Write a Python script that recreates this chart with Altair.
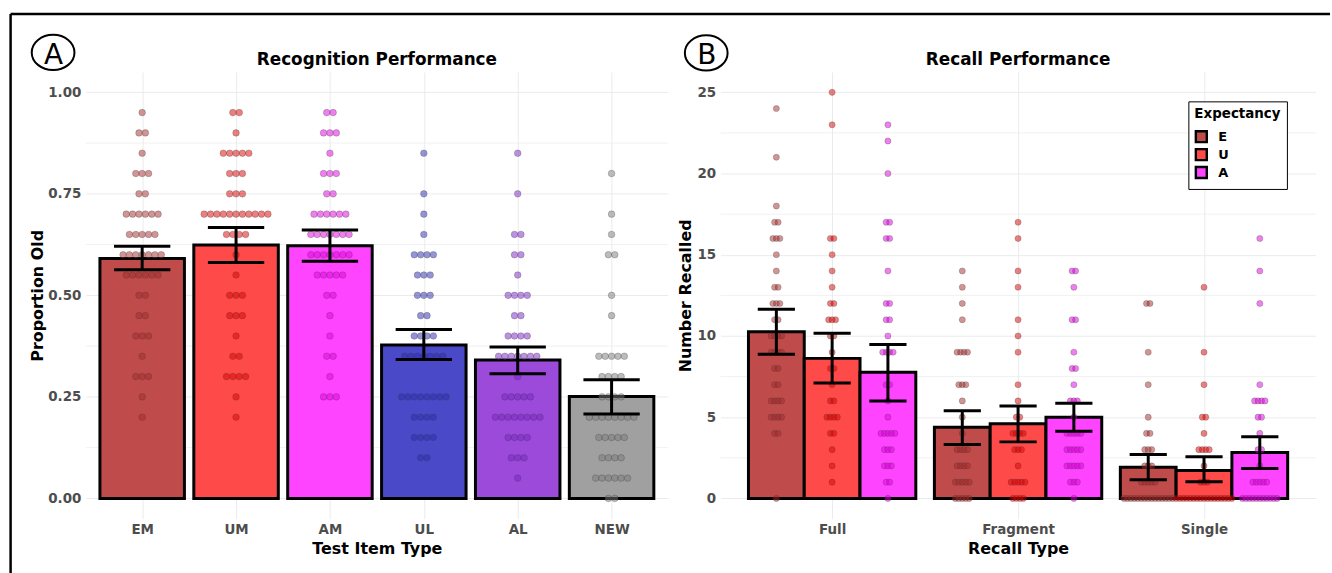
import altair as alt
import pandas as pd

FONT = "DejaVu Sans"
LABEL_GRAY = "#4D4D4D"
GRID = "#EBEBEB"

# ---------------- Panel A: recognition ----------------
items = ["EM", "UM", "AM", "UL", "AL", "NEW"]
item_mean = [0.591, 0.624, 0.622, 0.378, 0.341, 0.251]
item_lo = [0.563, 0.581, 0.584, 0.342, 0.307, 0.208]
item_hi = [0.621, 0.667, 0.661, 0.416, 0.373, 0.292]
item_bar_colors = ["#C04B4B", "#FF4A4A", "#FF44FF", "#4A4AC8", "#9B4ADA", "#A0A0A0"]
item_dot_colors = ["#A52A2A", "#DD0000", "#E000E0", "#2A2AB0", "#7A22C8", "#7A7A7A"]

em_vals = [0.95, 0.90, 0.85, 0.80, 0.75, 0.70, 0.65, 0.60, 0.55, 0.50, 0.45, 0.40, 0.35, 0.30, 0.25, 0.20]
em_counts = [1, 2, 1, 3, 2, 6, 5, 7, 6, 2, 2, 3, 1, 3, 1, 1]
um_vals = [0.95, 0.90, 0.85, 0.80, 0.75, 0.70, 0.65, 0.60, 0.55, 0.50, 0.45, 0.40, 0.35, 0.30, 0.25, 0.20]
um_counts = [2, 1, 5, 3, 3, 11, 4, 1, 1, 3, 3, 1, 2, 4, 1, 1]
am_vals = [0.95, 0.90, 0.85, 0.80, 0.75, 0.70, 0.65, 0.60, 0.55, 0.50, 0.45, 0.40, 0.35, 0.30, 0.25]
am_counts = [2, 3, 1, 3, 2, 6, 7, 7, 5, 2, 1, 1, 2, 1, 3]
ul_vals = [0.85, 0.75, 0.70, 0.65, 0.60, 0.55, 0.50, 0.45, 0.40, 0.35, 0.25, 0.20, 0.15, 0.10]
ul_counts = [1, 1, 1, 1, 4, 3, 3, 2, 4, 7, 8, 4, 4, 2]
al_vals = [0.85, 0.75, 0.65, 0.60, 0.55, 0.50, 0.45, 0.40, 0.35, 0.30, 0.25, 0.20, 0.15, 0.10, 0.05]
al_counts = [1, 1, 2, 2, 1, 4, 2, 4, 7, 1, 5, 8, 4, 3, 1]
new_vals = [0.80, 0.70, 0.65, 0.60, 0.50, 0.45, 0.35, 0.30, 0.25, 0.20, 0.15, 0.10, 0.05, 0.00]
new_counts = [1, 1, 1, 2, 1, 1, 5, 4, 4, 8, 5, 4, 6, 2]
recog_dots = [(em_vals, em_counts), (um_vals, um_counts), (am_vals, am_counts),
              (ul_vals, ul_counts), (al_vals, al_counts), (new_vals, new_counts)]
minor_a = [0.125, 0.375, 0.625, 0.875]
ticks_a = [0, 0.25, 0.5, 0.75, 1.0]

# ---------------- Panel B: recall ----------------
recall_types = ["Full", "Fragment", "Single"]
expectancy = ["E", "U", "A"]
exp_bar_colors = ["#C04B4B", "#FF4A4A", "#FF44FF"]
exp_dot_colors = ["#A52A2A", "#DD0000", "#E000E0"]

full_mean = [10.26, 8.62, 7.76]
full_lo = [8.87, 7.10, 6.00]
full_hi = [11.65, 10.16, 9.48]
fragment_mean = [4.38, 4.59, 5.00]
fragment_lo = [3.32, 3.48, 4.14]
fragment_hi = [5.40, 5.69, 5.86]
single_mean = [1.92, 1.72, 2.83]
single_lo = [1.15, 1.02, 1.84]
single_hi = [2.70, 2.56, 3.79]

full_e_vals = [24, 21, 18, 17, 16, 15, 14, 13, 12, 11, 10, 9, 8, 7, 6, 5, 4, 0]
full_e_counts = [1, 1, 1, 2, 3, 1, 1, 2, 3, 2, 4, 4, 2, 2, 4, 4, 2, 1]
full_u_vals = [25, 23, 16, 15, 14, 13, 12, 11, 10, 9, 8, 7, 6, 5, 4, 3, 2, 1]
full_u_counts = [1, 1, 2, 1, 1, 1, 2, 3, 2, 1, 2, 1, 2, 4, 2, 1, 1, 1]
full_a_vals = [23, 22, 20, 17, 16, 14, 12, 11, 10, 9, 7, 6, 5, 4, 3, 2, 1, 0]
full_a_counts = [1, 1, 1, 2, 2, 1, 2, 2, 1, 4, 2, 1, 1, 5, 3, 3, 2, 1]
fragment_e_vals = [14, 13, 12, 11, 9, 7, 6, 5, 4, 3, 2, 1, 0]
fragment_e_counts = [1, 1, 1, 1, 4, 3, 1, 1, 1, 4, 4, 5, 5]
fragment_u_vals = [17, 16, 14, 13, 11, 10, 9, 7, 6, 5, 4, 3, 2, 1, 0]
fragment_u_counts = [1, 1, 1, 1, 1, 1, 1, 1, 1, 2, 4, 3, 1, 5, 4]
fragment_a_vals = [14, 13, 11, 9, 8, 7, 6, 5, 4, 3, 2, 1, 0]
fragment_a_counts = [2, 1, 2, 1, 2, 1, 3, 1, 5, 5, 5, 3, 1]
single_e_vals = [12, 9, 7, 5, 4, 3, 2, 1, 0]
single_e_counts = [2, 1, 1, 1, 2, 3, 3, 5, 15]
single_u_vals = [13, 9, 7, 5, 4, 3, 2, 1, 0]
single_u_counts = [1, 1, 1, 2, 1, 4, 1, 3, 17]
single_a_vals = [16, 14, 12, 7, 6, 5, 4, 3, 2, 1, 0]
single_a_counts = [1, 1, 1, 1, 4, 2, 1, 2, 1, 5, 11]

recall_stats = [(full_mean, full_lo, full_hi), (fragment_mean, fragment_lo, fragment_hi),
                (single_mean, single_lo, single_hi)]
recall_dots = [
    [(full_e_vals, full_e_counts), (full_u_vals, full_u_counts), (full_a_vals, full_a_counts)],
    [(fragment_e_vals, fragment_e_counts), (fragment_u_vals, fragment_u_counts), (fragment_a_vals, fragment_a_counts)],
    [(single_e_vals, single_e_counts), (single_u_vals, single_u_counts), (single_a_vals, single_a_counts)],
]
minor_b = [2.5, 7.5, 12.5, 17.5, 22.5]
ticks_b = [0, 5, 10, 15, 20, 25]

# ---------------- layout constants ----------------
WA, WB, H = 584.8, 597.8, 448.8
STACK_A = 0.0679   # dot stacking step (category units)
STACK_B = 0.0187

# ---------------- build tables ----------------
bars_a = pd.DataFrame({"cat": items, "pos": range(1, 7), "mean": item_mean,
                       "lo": item_lo, "hi": item_hi})
bars_a["left"] = bars_a["pos"] - 0.45
bars_a["right"] = bars_a["pos"] + 0.45
bars_a["capl"] = bars_a["pos"] - 0.3
bars_a["capr"] = bars_a["pos"] + 0.3

rows = []
for i, (vals, cnts) in enumerate(recog_dots):
    for v, n in zip(vals, cnts):
        for k in range(n):
            rows.append({"cat": items[i], "x": i + 1 + (k - (n - 1) / 2) * STACK_A, "y": v})
dots_a = pd.DataFrame(rows)

brows, drows = [], []
for g, rt in enumerate(recall_types):
    m, lo, hi = recall_stats[g]
    for j, ex in enumerate(expectancy):
        c = g + 1 + (j - 1) * 0.3
        brows.append({"cat": ex, "type": rt, "pos": c, "mean": m[j], "lo": lo[j], "hi": hi[j],
                      "left": c - 0.15, "right": c + 0.15, "capl": c - 0.1, "capr": c + 0.1})
        vals, cnts = recall_dots[g][j]
        for v, n in zip(vals, cnts):
            for k in range(n):
                drows.append({"cat": ex, "x": c + (k - (n - 1) / 2) * STACK_B, "y": v})
bars_b = pd.DataFrame(brows)
dots_b = pd.DataFrame(drows)
one = pd.DataFrame({"k": [1]})


def panel(bars, dots, width, xdom, xvals, xlabels, ydom, yvals, yfmt, xtitle, ytitle,
          ytitle_x, minor, title, domain, bar_cols, dot_cols, dot_size, leg_bar):
    xs = alt.Scale(domain=xdom, nice=False, zero=False)
    ys = alt.Scale(domain=ydom, nice=False, zero=False)
    lab = "[" + ",".join("'%s'" % s for s in xlabels) + "][datum.value - 1]"
    xaxis = alt.Axis(values=xvals, labelExpr=lab, title=xtitle, grid=True, gridColor=GRID,
                     ticks=False, tickSize=0, domain=False, labelPadding=3.5,
                     labelFontSize=13.5, labelFont=FONT, labelFontWeight="bold",
                     labelColor=LABEL_GRAY, titleFontSize=16, titleFont=FONT,
                     titleFontWeight="bold", titleColor="black", titleX=width / 2,
                     titleY=29.8, titleBaseline="middle", titleAlign="center",
                     labelOverlap=False, labelFlush=False)
    yaxis = alt.Axis(values=yvals, format=yfmt, title=ytitle, grid=True, gridColor=GRID,
                     ticks=False, tickSize=0, domain=False, labelPadding=5,
                     labelFontSize=13.5, labelFont=FONT, labelFontWeight="bold",
                     labelColor=LABEL_GRAY, titleFontSize=16, titleFont=FONT,
                     titleFontWeight="bold", titleColor="black", titleX=ytitle_x,
                     titleY=H / 2, titleBaseline="middle", titleAlign="center",
                     titleAngle=270, labelOverlap=False, labelFlush=False)

    grid_minor = alt.Chart(pd.DataFrame({"v": minor})).mark_rule(color=GRID, strokeWidth=0.7).encode(
        y=alt.Y("v:Q", scale=ys, axis=yaxis), x=alt.value(0), x2=alt.value(width))
    bar = alt.Chart(bars).mark_bar(stroke="black", strokeWidth=3, opacity=1).encode(
        x=alt.X("left:Q", scale=xs, axis=xaxis), x2="right:Q",
        y=alt.Y("mean:Q", scale=ys, axis=yaxis), y2=alt.datum(0),
        color=alt.Color("cat:N", scale=alt.Scale(domain=domain, range=bar_cols), legend=leg_bar))
    dot = alt.Chart(dots).mark_circle(size=dot_size, opacity=1, fillOpacity=0.5, stroke="#3A3A3A",
                                      strokeOpacity=0.35, strokeWidth=0.8).encode(
        x=alt.X("x:Q", scale=xs, axis=xaxis), y=alt.Y("y:Q", scale=ys, axis=yaxis),
        fill=alt.Fill("cat:N", scale=alt.Scale(domain=domain, range=dot_cols), legend=None))
    err = alt.Chart(bars).mark_rule(color="black", strokeWidth=3).encode(
        x=alt.X("pos:Q", scale=xs, axis=xaxis), y=alt.Y("lo:Q", scale=ys, axis=yaxis), y2="hi:Q")
    cap_hi = alt.Chart(bars).mark_rule(color="black", strokeWidth=3).encode(
        x=alt.X("capl:Q", scale=xs, axis=xaxis), x2="capr:Q", y=alt.Y("hi:Q", scale=ys, axis=yaxis))
    cap_lo = alt.Chart(bars).mark_rule(color="black", strokeWidth=3).encode(
        x=alt.X("capl:Q", scale=xs, axis=xaxis), x2="capr:Q", y=alt.Y("lo:Q", scale=ys, axis=yaxis))
    ttl = alt.Chart(one).mark_text(text=title, font=FONT, fontSize=16.9, fontWeight="bold",
                                   color="black", align="center", baseline="middle").encode(
        x=alt.value(width / 2), y=alt.value(-12.4))
    return [grid_minor, bar, dot, err, cap_hi, cap_lo, ttl]


ELLIPSE = "M -1.21 0 A 1.21 1 0 1 0 1.21 0 A 1.21 1 0 1 0 -1.21 0 Z"


def badge(letter, cx, cy, ty):
    ring = alt.Chart(one).mark_point(shape=ELLIPSE, size=1260, filled=False, stroke="black",
                                     strokeWidth=2, opacity=1).encode(x=alt.value(cx), y=alt.value(cy))
    txt = alt.Chart(one).mark_text(text=letter, font=FONT, fontSize=28, align="center",
                                   baseline="middle", color="black").encode(
        x=alt.value(cx + 0.5), y=alt.value(ty))
    return [ring, txt]


leg_bar = alt.Legend(title="Expectancy", orient="none", legendX=470, legendY=29.5,
                     symbolType="square", symbolSize=121, symbolStrokeColor="black",
                     symbolStrokeWidth=2.4, symbolOpacity=1, strokeColor="black",
                     fillColor="white", padding=6, titleFontSize=13.5, titleFont=FONT,
                     titleFontWeight="bold", titleColor="black", labelFontSize=13,
                     labelFont=FONT, labelFontWeight="bold", labelColor="black",
                     labelOffset=10, rowPadding=-5, titlePadding=9, cornerRadius=0)

layers_a = panel(bars_a, dots_a, WA, [0.4, 6.6], [1, 2, 3, 4, 5, 6], items,
                 [-0.05, 1.05], ticks_a, ".2f", "Test Item Type", "Proportion Old",
                 -49, minor_a, "Recognition Performance", items, item_bar_colors,
                 item_dot_colors, 44, None)
frame_left = alt.Chart(one).mark_rule(color="black", strokeWidth=2.5).encode(
    x=alt.value(-75.6), y=alt.value(-58.3), y2=alt.value(520))
frame_top = alt.Chart(one).mark_rule(color="black", strokeWidth=2.5).encode(
    x=alt.value(-75.6), x2=alt.value(1250), y=alt.value(-58.3))
chart_a = alt.layer(*layers_a, frame_left, frame_top, *badge("A", -32.9, -19.7, -16.2)).properties(
    width=WA, height=H)

layers_b = panel(bars_b, dots_b, WB, [0.4, 3.6], [1, 2, 3], recall_types,
                 [-1.25, 26.25], ticks_b, "d", "Recall Type", "Number Recalled",
                 -35.6, minor_b, "Recall Performance", expectancy, exp_bar_colors,
                 exp_dot_colors, 38, leg_bar)
chart_b = alt.layer(*layers_b, *badge("B", -14.4, -19.2, -15.7)).properties(
    width=WB, height=H)

chart = alt.hconcat(chart_a, chart_b, spacing=52.7, bounds="flush").resolve_scale(
    x="independent", y="independent", color="independent", fill="independent"
).properties(
    padding={"left": 9.25, "top": 10.95, "right": 0, "bottom": 0}
).configure(font=FONT).configure_view(stroke=None)

chart.save("out.html", embed_options={"renderer": "svg", "actions": False})
